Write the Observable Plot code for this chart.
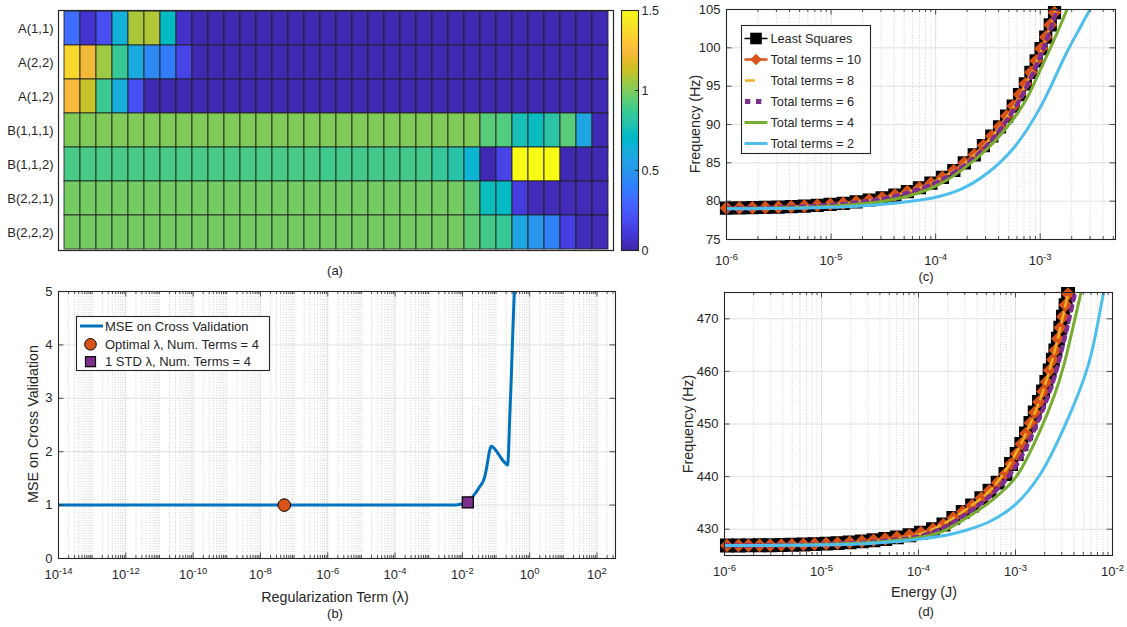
<!DOCTYPE html>
<html><head><meta charset="utf-8">
<script src="https://cdn.jsdelivr.net/npm/d3@7"></script>
<script src="https://cdn.jsdelivr.net/npm/@observablehq/plot@0.6"></script>
<style>
html,body{margin:0;padding:0;background:#fff;overflow:hidden}
#wrap{position:relative;width:1127px;height:627px;font-family:"Liberation Sans",Arial,Helvetica,sans-serif;color:#262626;overflow:hidden}
#wrap svg{position:absolute;overflow:visible}
.lbl{position:absolute;white-space:nowrap;line-height:1}
</style></head><body><div id="wrap"></div>
<script>
// ---------------- DATA ----------------
// (a) heatmap
const heatRows = ["A(1,1)","A(2,2)","A(1,2)","B(1,1,1)","B(1,1,2)","B(2,2,1)","B(2,2,2)"];
const heatA11  = [0.33,0.08,0.20,0.64,1.07,1.08,0.71,0.07,0.02,0.02,0.02,0.02,0.02,0.02,0.02,0.02,0.02,0.02,0.02,0.02,0.02,0.02,0.02,0.02,0.02,0.02,0.02,0.02,0.02,0.02,0.02,0.02,0.02,0.02];
const heatA22  = [1.36,1.22,1.05,0.86,0.60,0.44,0.38,0.16,0.02,0.02,0.02,0.02,0.02,0.02,0.02,0.02,0.02,0.02,0.02,0.02,0.02,0.02,0.02,0.02,0.02,0.02,0.02,0.02,0.02,0.02,0.02,0.02,0.02,0.02];
const heatA12  = [1.24,1.12,0.87,0.62,0.20,0.02,0.02,0.02,0.02,0.02,0.02,0.02,0.02,0.02,0.02,0.02,0.02,0.02,0.02,0.02,0.02,0.02,0.02,0.02,0.02,0.02,0.02,0.02,0.02,0.02,0.02,0.02,0.02,0.02];
const heatB111 = [1.00,1.00,1.00,1.00,1.00,1.00,1.00,1.00,1.00,1.00,1.00,1.00,1.00,1.00,1.00,1.00,1.00,1.00,1.00,1.00,1.00,1.00,1.00,1.00,1.00,1.00,0.93,0.92,0.76,0.73,0.81,0.93,0.57,0.02];
const heatB112 = [0.90,0.90,0.90,0.90,0.90,0.90,0.90,0.90,0.90,0.90,0.90,0.90,0.90,0.90,0.90,0.90,0.88,0.89,0.89,0.89,0.89,0.89,0.89,0.85,0.80,0.66,0.02,0.15,1.50,1.50,1.50,0.02,0.02,0.02];
const heatB221 = [0.98,0.98,0.98,0.98,0.98,0.98,0.98,0.98,0.98,0.98,0.98,0.98,0.98,0.98,0.98,0.98,0.98,0.98,0.98,0.98,0.98,0.98,0.98,0.98,0.98,0.94,0.74,0.71,0.12,0.03,0.03,0.03,0.03,0.03];
const heatB222 = [0.98,0.98,0.98,0.98,0.98,0.98,0.98,0.98,0.98,0.98,0.98,0.98,0.98,0.98,0.98,0.98,0.98,0.98,0.98,0.98,0.98,0.98,0.98,0.98,0.98,0.94,0.89,0.86,0.57,0.50,0.41,0.13,0.04,0.03];
const heatValues = [heatA11, heatA22, heatA12, heatB111, heatB112, heatB221, heatB222];
const colorbarTicks = [0, 0.5, 1, 1.5];

// (b) cross-validation MSE
const bLogLambda = [-14,-10,-6,-3,-2.3,-2.1,-1.95,-1.84,-1.69,-1.49,-1.34,-1.26,-1.19,-1.14,-1.08,-1.0,-0.9,-0.8,-0.7,-0.66,-0.63,-0.6,-0.55,-0.5,-0.45,-0.4];
const bMse       = [1.0,1.0,1.0,1.0,1.0,1.01,1.03,1.05,1.16,1.34,1.52,1.77,2.02,2.1,2.08,2.02,1.93,1.84,1.77,1.75,1.96,2.52,3.33,4.27,5.1,6.0];
const bOptimal = {lambda: 5.1e-8, mse: 1.0};
const bOneStd  = {lambda: 0.0145, mse: 1.05};
const bXTicks = [1e-14,1e-12,1e-10,1e-8,1e-6,1e-4,1e-2,1e0,1e2];
const bYTicks = [0,1,2,3,4,5];

// (c) backbone, low mode (log10 energy, frequency)
const cLsLogE = [-6.000,-5.876,-5.752,-5.628,-5.504,-5.380,-5.256,-5.132,-5.008,-4.884,-4.760,-4.636,-4.512,-4.390,-4.270,-4.155,-4.045,-3.935,-3.826,-3.726,-3.631,-3.543,-3.463,-3.389,-3.321,-3.258,-3.198,-3.142,-3.089,-3.039,-2.992,-2.947,-2.904,-2.863,-2.823];
const cLsF    = [79.10,79.12,79.15,79.18,79.22,79.28,79.36,79.46,79.58,79.72,79.91,80.15,80.44,80.80,81.24,81.75,82.35,83.10,84.00,85.00,86.05,87.25,88.50,89.70,91.10,92.40,93.90,95.30,96.80,98.30,99.90,101.40,103.00,104.60,106.20];
const cT10F   = [79.10,79.12,79.15,79.18,79.22,79.28,79.36,79.46,79.58,79.72,79.91,80.15,80.44,80.80,81.24,81.75,82.35,83.10,84.00,85.00,86.05,87.25,88.50,89.70,91.10,92.40,93.90,95.30,96.80,98.30,99.90,101.40,103.00,104.60,106.20];
const cGridLogE = [-6,-5.5,-5,-4.75,-4.5,-4.25,-4,-3.75,-3.5,-3.25,-3.125,-3,-2.875,-2.75,-2.625];
const cT8F = [79.08,79.20,79.55,79.90,80.43,81.28,82.60,84.65,87.75,92.40,95.55,99.30,103.90,109.30,115.00];
const cT6F = [79.05,79.17,79.50,79.83,80.33,81.15,82.40,84.40,87.40,92.00,95.10,98.90,103.50,108.90,114.50];
const cT4F = [79.05,79.12,79.35,79.60,80.00,80.70,81.95,84.05,86.90,90.85,93.50,97.10,100.80,104.80,109.30];
const cT2LogE = [-6,-5.5,-5,-4.75,-4.5,-4.25,-4,-3.75,-3.5,-3.25,-3,-2.75,-2.6,-2.5,-2.4];
const cT2F    = [79.00,79.05,79.20,79.35,79.60,79.95,80.50,81.60,83.70,87.00,92.20,99.30,103.10,105.60,108.10];
const cXTicks = [1e-6,1e-5,1e-4,1e-3];
const cYTicks = [75,80,85,90,95,100,105];

// (d) backbone, high mode
const dLsLogE = [-5.975,-5.856,-5.753,-5.639,-5.529,-5.415,-5.305,-5.186,-5.072,-4.952,-4.835,-4.711,-4.584,-4.464,-4.343,-4.223,-4.093,-3.975,-3.850,-3.743,-3.641,-3.544,-3.447,-3.352,-3.268,-3.184,-3.104,-3.046,-2.988,-2.940,-2.892,-2.846,-2.802,-2.758,-2.716,-2.682,-2.648,-2.615,-2.589,-2.563,-2.538,-2.511,-2.484,-2.458,-2.432];
const dLsF    = [426.90,426.90,426.92,426.94,426.96,427.00,427.04,427.10,427.17,427.25,427.35,427.50,427.68,427.90,428.15,428.45,428.85,429.35,430.00,430.90,432.15,433.30,434.50,435.90,437.30,438.85,440.50,442.40,444.30,446.20,448.20,450.20,452.20,454.20,456.20,458.00,460.20,462.20,464.00,466.20,468.30,470.40,472.60,474.70,476.80];
const dT10F   = [426.90,426.90,426.92,426.94,426.96,427.00,427.04,427.10,427.17,427.25,427.35,427.50,427.68,427.90,428.15,428.45,428.85,429.35,430.00,430.90,432.15,433.30,434.50,435.90,437.30,438.85,440.50,442.40,444.30,446.20,448.20,450.20,452.20,454.20,456.20,458.00,460.20,462.20,464.00,466.20,468.30,470.40,472.60,474.70,476.80];
const dGridLogE = [-6,-5.5,-5,-4.5,-4.25,-4,-3.75,-3.5,-3.25,-3,-2.75,-2.6,-2.5,-2.4,-2.3];
const dT8F = [426.90,426.98,427.17,427.65,428.15,429.00,430.95,433.90,437.60,444.30,454.50,463.60,471.40,479.50,488.00];
const dT6F = [426.90,426.95,427.12,427.55,428.00,428.60,430.20,433.00,436.50,441.90,451.30,458.90,465.90,473.80,482.00];
const dT4F = [426.90,426.95,427.10,427.45,427.85,428.40,429.60,432.20,435.40,439.80,448.60,455.40,461.30,469.00,477.00];
const dT2LogE = [-6,-5.5,-5,-4.5,-4.25,-4,-3.75,-3.5,-3.25,-3,-2.75,-2.5,-2.25,-2.1,-2.0];
const dT2F    = [426.90,426.92,427.00,427.30,427.60,428.10,428.75,429.85,431.60,434.70,440.30,449.30,461.20,474.20,484.00];
const dXTicks = [1e-6,1e-5,1e-4,1e-3,1e-2];
const dYTicks = [430,440,450,460,470];

const legendC = ["Least Squares","Total terms = 10","Total terms = 8","Total terms = 6","Total terms = 4","Total terms = 2"];
const legendB = ["MSE on Cross Validation","Optimal \u03bb, Num. Terms = 4","1 STD \u03bb, Num. Terms = 4"];

// ---------------- STYLE ----------------
const FONT = '"Liberation Sans", Arial, Helvetica, sans-serif';
const INK = "#262626", GRID = "#e0e0e0";
const C_BLUE = "#0072BD", C_ORANGE = "#D95319", C_YELLOW = "#EDB120", C_PURPLE = "#7E2F8E", C_GREEN = "#77AC30", C_CYAN = "#4DBEEE";
const parulaRGB = [[0.2422,0.1504,0.6603],[0.2504,0.1650,0.7076],[0.2578,0.1818,0.7511],[0.2647,0.1978,0.7952],[0.2706,0.2147,0.8364],[0.2751,0.2342,0.8710],[0.2783,0.2559,0.8991],[0.2803,0.2782,0.9221],[0.2813,0.3006,0.9414],[0.2810,0.3228,0.9579],[0.2795,0.3447,0.9717],[0.2760,0.3667,0.9829],[0.2699,0.3892,0.9906],[0.2602,0.4123,0.9952],[0.2440,0.4358,0.9988],[0.2206,0.4603,0.9973],[0.1963,0.4847,0.9892],[0.1834,0.5074,0.9798],[0.1786,0.5289,0.9682],[0.1764,0.5499,0.9520],[0.1687,0.5703,0.9359],[0.1540,0.5902,0.9218],[0.1460,0.6091,0.9079],[0.1380,0.6276,0.8973],[0.1248,0.6459,0.8883],[0.1113,0.6635,0.8763],[0.0952,0.6798,0.8598],[0.0689,0.6948,0.8394],[0.0297,0.7082,0.8163],[0.0036,0.7203,0.7917],[0.0067,0.7312,0.7660],[0.0433,0.7411,0.7394],[0.0964,0.7500,0.7120],[0.1408,0.7584,0.6842],[0.1717,0.7670,0.6554],[0.1938,0.7758,0.6251],[0.2161,0.7843,0.5923],[0.2470,0.7918,0.5567],[0.2906,0.7973,0.5188],[0.3406,0.8008,0.4789],[0.3909,0.8029,0.4354],[0.4456,0.8024,0.3909],[0.5044,0.7993,0.3480],[0.5616,0.7942,0.3045],[0.6174,0.7876,0.2612],[0.6720,0.7793,0.2227],[0.7242,0.7698,0.1910],[0.7738,0.7598,0.1646],[0.8203,0.7498,0.1535],[0.8634,0.7406,0.1596],[0.9035,0.7330,0.1774],[0.9393,0.7288,0.2100],[0.9728,0.7298,0.2394],[0.9956,0.7434,0.2371],[0.9970,0.7659,0.2199],[0.9952,0.7893,0.2028],[0.9892,0.8136,0.1885],[0.9786,0.8386,0.1766],[0.9676,0.8639,0.1643],[0.9610,0.8890,0.1537],[0.9597,0.9135,0.1423],[0.9628,0.9373,0.1265],[0.9691,0.9606,0.1064],[0.9769,0.9839,0.0805]];
const parulaHex = parulaRGB.map(([r,g,b]) => d3.rgb(r*255, g*255, b*255).formatHex());
const CMAX = 1.5;
const parulaScale = {type: "linear", domain: parulaHex.map((_, i) => i * CMAX / (parulaHex.length - 1)), range: parulaHex, interpolate: "rgb", clamp: true};
const baseStyle = {fontFamily: FONT, fontSize: "13px", color: INK, background: "transparent", overflow: "visible"};
const numFmt = d => String(d);

const wrap = document.getElementById("wrap");
function place(node, left, top) { node.style.left = left + "px"; node.style.top = top + "px"; wrap.appendChild(node); return node; }
function label(txt, x, y, size = 13, rotate = 0) {
  const d = document.createElement("div");
  d.className = "lbl"; d.textContent = txt;
  d.style.fontSize = size + "px";
  d.style.transform = `translate(-50%,-50%) rotate(${rotate}deg)`;
  place(d, x, y);
}
function supify(svg) {
  const ns = "http://www.w3.org/2000/svg";
  svg.querySelectorAll("text").forEach(t => {
    const m = /^10\^(-?\d+)$/.exec(t.textContent);
    if (!m) return;
    t.textContent = "";
    const a = document.createElementNS(ns, "tspan"); a.textContent = "10"; t.appendChild(a);
    const b = document.createElementNS(ns, "tspan"); b.textContent = m[1]; b.setAttribute("dy", "-5"); b.setAttribute("font-size", "9.5"); t.appendChild(b);
  });
}
function minorLogTicks(lo, hi, majors) {
  const out = [];
  for (let e = Math.floor(Math.log10(lo)); e <= Math.ceil(Math.log10(hi)); e++)
    for (let k = 1; k <= 9; k++) {
      const v = k * Math.pow(10, e);
      if (v >= lo * 0.9999 && v <= hi * 1.0001 && !majors.some(m => Math.abs(m - v) / v < 1e-6)) out.push(v);
    }
  return out;
}
function matlabPanel(o) {
  const pw = o.width - o.ml - o.mr, ph = o.height - o.mt - o.mb;
  const xMinor = minorLogTicks(o.xDomain[0], o.xDomain[1], o.xMajor);
  const T = 5.5, t = 3;
  const tk = {stroke: INK, strokeWidth: 0.8};
  const svg = Plot.plot({
    width: o.width, height: o.height, marginLeft: o.ml, marginRight: o.mr, marginTop: o.mt, marginBottom: o.mb,
    style: baseStyle,
    x: {type: "log", domain: o.xDomain},
    y: {type: "linear", domain: o.yDomain},
    marks: [
      Plot.ruleX(xMinor, {x: d => d, stroke: "#c2c2c2", strokeWidth: 0.7, strokeDasharray: "1,1.6"}),
      Plot.ruleX(o.xMajor, {x: d => d, stroke: GRID, strokeWidth: 1}),
      Plot.ruleY(o.yMajor, {y: d => d, stroke: GRID, strokeWidth: 1}),
      ...o.data,
      Plot.ruleX(o.xMajor, {x: d => d, insetTop: ph - T, ...tk}),
      Plot.ruleX(o.xMajor, {x: d => d, insetBottom: ph - T, ...tk}),
      Plot.ruleX(xMinor, {x: d => d, insetTop: ph - t, ...tk}),
      Plot.ruleX(xMinor, {x: d => d, insetBottom: ph - t, ...tk}),
      Plot.ruleY(o.yMajor, {y: d => d, insetRight: pw - T, ...tk}),
      Plot.ruleY(o.yMajor, {y: d => d, insetLeft: pw - T, ...tk}),
      Plot.frame({stroke: INK, strokeWidth: 1.1}),
      Plot.axisX({ticks: o.xMajor, tickFormat: d => "10^" + Math.round(Math.log10(d)), tickSize: 0, tickPadding: o.xPad, fontSize: 13, label: null}),
      Plot.axisY({ticks: o.yMajor, tickFormat: numFmt, tickSize: 0, tickPadding: o.yPad, fontSize: 13, label: null})
    ]
  });
  supify(svg);
  return place(svg, o.left, o.top);
}
const toPts = (logE, f) => logE.map((le, i) => ({e: Math.pow(10, le), f: f[i]}));
const SMOOTH = "catmull-rom";

// ---------------- (a) heatmap ----------------
const heatCols = heatValues[0].map((_, j) => j + 1);
const heatData = heatRows.flatMap((row, i) => heatValues[i].map((v, j) => ({row, col: j + 1, v})));
place(Plot.plot({
  width: 620, height: 260, marginLeft: 58, marginRight: 7, marginTop: 10, marginBottom: 10,
  style: baseStyle,
  x: {type: "band", domain: heatCols, padding: 0, axis: null},
  y: {type: "band", domain: heatRows, padding: 0},
  color: parulaScale,
  marks: [
    Plot.cell(heatData, {x: "col", y: "row", fill: "v", stroke: "#1e1e1e", strokeWidth: 1, strokeOpacity: 0.85}),
    Plot.frame({stroke: INK, strokeWidth: 1.2}),
    Plot.axisY({tickSize: 0, tickPadding: 5, fontSize: 13, label: null})
  ]
}), 0, 0);

// colorbar
const cbN = 120, cbStep = CMAX / cbN;
const cbStops = d3.range(cbN).map(i => i * cbStep);
place(Plot.plot({
  width: 60, height: 260, marginLeft: 21, marginRight: 22, marginTop: 10, marginBottom: 10,
  style: baseStyle,
  x: {domain: [0, 1], axis: null},
  y: {domain: [0, CMAX]},
  color: parulaScale,
  marks: [
    Plot.rect(cbStops, {x1: 0, x2: 1, y1: d => d, y2: d => d + cbStep * 1.05, fill: d => d + cbStep / 2, shapeRendering: "crispEdges"}),
    Plot.ruleY([0.5, 1], {y: d => d, insetLeft: 17 - 3, stroke: INK}),
    Plot.frame({stroke: INK, strokeWidth: 1.1}),
    Plot.axisY({anchor: "right", ticks: colorbarTicks, tickFormat: numFmt, tickSize: 0, tickPadding: 3, fontSize: 12.5, label: null})
  ]
}), 600, 0);
label("(a)", 335, 270, 13);

// ---------------- (b) ----------------
const bData = bLogLambda.map((l, i) => ({lambda: Math.pow(10, l), mse: bMse[i]}));
matlabPanel({
  left: 0, top: 280, width: 630, height: 330, ml: 58, mr: 15, mt: 11, mb: 52,
  xDomain: [1e-14, Math.pow(10, 2.55)], yDomain: [0, 5], xMajor: bXTicks, yMajor: bYTicks, xPad: 11, yPad: 6,
  data: [
    Plot.line(bData, {x: "lambda", y: "mse", stroke: C_BLUE, strokeWidth: 3, curve: "monotone-x", clip: true}),
    Plot.dot([bOptimal], {x: "lambda", y: "mse", symbol: "circle", r: 6.3, fill: C_ORANGE, stroke: "black", strokeWidth: 1}),
    Plot.dot([bOneStd], {x: "lambda", y: "mse", symbol: "square", r: 6.2, fill: C_PURPLE, stroke: "black", strokeWidth: 1.3})
  ]
});
label("Regularization Term (\u03bb)", 335, 597, 14.3);
label("(b)", 335, 613, 13);
label("MSE on Cross Validation", 33, 424, 14.3, -90);

// ---------------- (c) ----------------
const cDom = [1e-6, Math.pow(10, -2.28)], cYDom = [75, 105];
const inC = p => p.f <= cYDom[1] && p.e >= cDom[0] && p.e <= cDom[1];
const cLS = toPts(cLsLogE, cLsF), cT10 = toPts(cLsLogE, cT10F);
matlabPanel({
  left: 680, top: 0, width: 447, height: 290, ml: 46, mr: 12, mt: 9, mb: 51,
  xDomain: cDom, yDomain: cYDom, xMajor: cXTicks, yMajor: cYTicks, xPad: 16, yPad: 6,
  data: [
    Plot.line(cLS, {x: "e", y: "f", stroke: "black", strokeWidth: 1.5, clip: true}),
    Plot.dot(cLS.filter(inC), {x: "e", y: "f", symbol: "square", r: 6.6, fill: "black", stroke: "black"}),
    Plot.line(cT10, {x: "e", y: "f", stroke: C_ORANGE, strokeWidth: 2.5, clip: true}),
    Plot.dot(cT10.filter(inC), {x: "e", y: "f", symbol: "diamond2", r: 5.2, fill: C_ORANGE, stroke: C_ORANGE}),
    Plot.line(toPts(cGridLogE, cT8F), {x: "e", y: "f", stroke: C_YELLOW, strokeWidth: 2.5, strokeDasharray: "10,6", curve: SMOOTH, clip: true}),
    Plot.line(toPts(cGridLogE, cT6F), {x: "e", y: "f", stroke: C_PURPLE, strokeWidth: 4.5, strokeDasharray: "4.5,6", curve: SMOOTH, clip: true}),
    Plot.line(toPts(cGridLogE, cT4F), {x: "e", y: "f", stroke: C_GREEN, strokeWidth: 3, curve: SMOOTH, clip: true}),
    Plot.line(toPts(cT2LogE, cT2F), {x: "e", y: "f", stroke: C_CYAN, strokeWidth: 3, curve: SMOOTH, clip: true})
  ]
});
label("(c)", 926, 276, 13);
label("Frequency (Hz)", 695, 124, 14.3, -90);

// ---------------- (d) ----------------
const dDom = [1e-6, 1e-2], dYDom = [425, 475];
const inD = p => p.f <= dYDom[1] && p.e >= dDom[0] && p.e <= dDom[1];
const dLS = toPts(dLsLogE, dLsF), dT10 = toPts(dLsLogE, dT10F);
matlabPanel({
  left: 680, top: 280, width: 447, height: 347, ml: 44, mr: 15, mt: 12, mb: 72,
  xDomain: dDom, yDomain: dYDom, xMajor: dXTicks, yMajor: dYTicks, xPad: 11, yPad: 6,
  data: [
    Plot.line(dLS, {x: "e", y: "f", stroke: "black", strokeWidth: 1.5, clip: true}),
    Plot.dot(dLS.filter(inD), {x: "e", y: "f", symbol: "square", r: 7, fill: "black", stroke: "black"}),
    Plot.line(dT10, {x: "e", y: "f", stroke: C_ORANGE, strokeWidth: 2.5, clip: true}),
    Plot.dot(dT10.filter(inD), {x: "e", y: "f", symbol: "diamond2", r: 5.2, fill: C_ORANGE, stroke: C_ORANGE}),
    Plot.line(toPts(dGridLogE, dT8F), {x: "e", y: "f", stroke: C_YELLOW, strokeWidth: 2.5, strokeDasharray: "10,6", curve: SMOOTH, clip: true}),
    Plot.line(toPts(dGridLogE, dT6F), {x: "e", y: "f", stroke: C_PURPLE, strokeWidth: 4.5, strokeDasharray: "4.5,6", curve: SMOOTH, clip: true}),
    Plot.line(toPts(dGridLogE, dT4F), {x: "e", y: "f", stroke: C_GREEN, strokeWidth: 3, curve: SMOOTH, clip: true}),
    Plot.line(toPts(dT2LogE, dT2F), {x: "e", y: "f", stroke: C_CYAN, strokeWidth: 3, curve: SMOOTH, clip: true})
  ]
});
label("Energy (J)", 924, 592, 14.3);
label("(d)", 926, 611, 13);
label("Frequency (Hz)", 687.5, 423.5, 14.3, -90);

// ---------------- legends ----------------
function legendBox(left, top, w, h) {
  const svg = d3.create("svg").attr("width", w).attr("height", h);
  svg.append("rect").attr("x", 0.5).attr("y", 0.5).attr("width", w - 1).attr("height", h - 1).attr("fill", "white").attr("stroke", INK).attr("stroke-width", 1.1);
  place(svg.node(), left, top);
  return svg;
}
function legendText(svg, txt, x, y, size) {
  svg.append("text").attr("x", x).attr("y", y).attr("dy", "0.35em").attr("font-size", size).attr("font-family", FONT).attr("fill", INK).text(txt);
}
// (b) legend
{
  const g = legendBox(76, 316, 194, 55);
  const ys = [10, 28.3, 45.7];
  g.append("line").attr("x1", 4).attr("x2", 27).attr("y1", ys[0]).attr("y2", ys[0]).attr("stroke", C_BLUE).attr("stroke-width", 3);
  g.append("circle").attr("cx", 14.5).attr("cy", ys[1]).attr("r", 5.8).attr("fill", C_ORANGE).attr("stroke", "black");
  g.append("rect").attr("x", 14.5 - 5).attr("y", ys[2] - 5).attr("width", 10).attr("height", 10).attr("fill", C_PURPLE).attr("stroke", "black").attr("stroke-width", 1.2);
  legendB.forEach((t, i) => legendText(g, t, 29, ys[i], 13));
}
// (c) legend
{
  const g = legendBox(741, 25, 130, 129);
  const ys = legendC.map((_, i) => 13.5 + 21 * i);
  g.append("line").attr("x1", 3.5).attr("x2", 26.5).attr("y1", ys[0]).attr("y2", ys[0]).attr("stroke", "black").attr("stroke-width", 1.5);
  g.append("rect").attr("x", 15 - 5.8).attr("y", ys[0] - 5.8).attr("width", 11.6).attr("height", 11.6).attr("fill", "black");
  g.append("line").attr("x1", 3.5).attr("x2", 26.5).attr("y1", ys[1]).attr("y2", ys[1]).attr("stroke", C_ORANGE).attr("stroke-width", 2.5);
  g.append("path").attr("d", d3.symbol(d3.symbolDiamond2, Math.PI * 5.2 * 5.2)()).attr("transform", `translate(15,${ys[1]})`).attr("fill", C_ORANGE);
  g.append("line").attr("x1", 4).attr("x2", 14).attr("y1", ys[2]).attr("y2", ys[2]).attr("stroke", C_YELLOW).attr("stroke-width", 2.5);
  g.append("line").attr("x1", 4).attr("x2", 20.5).attr("y1", ys[3]).attr("y2", ys[3]).attr("stroke", C_PURPLE).attr("stroke-width", 5).attr("stroke-dasharray", "5.3,5.7");
  g.append("line").attr("x1", 3.5).attr("x2", 26.5).attr("y1", ys[4]).attr("y2", ys[4]).attr("stroke", C_GREEN).attr("stroke-width", 3);
  g.append("line").attr("x1", 3.5).attr("x2", 26.5).attr("y1", ys[5]).attr("y2", ys[5]).attr("stroke", C_CYAN).attr("stroke-width", 3);
  legendC.forEach((t, i) => legendText(g, t, 29.5, ys[i], 12.7));
}
</script></body></html>
